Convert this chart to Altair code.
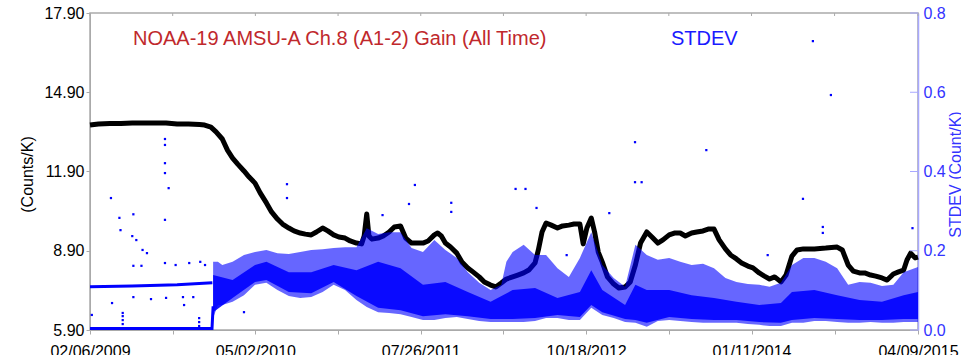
import json
import altair as alt
import pandas as pd

# ---------------- data ----------------
gain_dates = [
"2009-02-06","2009-03-01","2009-04-01","2009-05-01","2009-06-01","2009-07-01","2009-08-01","2009-09-01","2009-10-01","2009-11-01",
"2009-12-01","2009-12-15","2010-01-01","2010-01-15","2010-02-01","2010-02-15","2010-03-01","2010-03-15","2010-04-01","2010-04-15",
"2010-05-01","2010-05-15","2010-06-01","2010-06-15","2010-07-01","2010-07-15","2010-08-01","2010-08-15","2010-09-01","2010-09-15",
"2010-10-01","2010-10-15","2010-11-01","2010-11-15","2010-12-01","2010-12-15","2011-01-01","2011-01-15","2011-02-01","2011-02-15",
"2011-02-22","2011-03-01","2011-03-07","2011-03-15","2011-04-01","2011-04-15","2011-05-01","2011-05-15","2011-06-01","2011-06-15",
"2011-07-01","2011-07-15","2011-08-01","2011-08-15","2011-09-01","2011-09-10","2011-09-20","2011-10-01","2011-10-15","2011-11-01",
"2011-11-15","2011-12-01","2011-12-15","2012-01-01","2012-01-15","2012-02-01","2012-02-15","2012-03-01","2012-03-15","2012-04-01",
"2012-04-15","2012-05-01","2012-05-15","2012-06-01","2012-06-10","2012-06-20","2012-07-01","2012-07-15","2012-08-01","2012-08-15",
"2012-09-01","2012-09-15","2012-10-01","2012-10-10","2012-10-20","2012-11-01","2012-11-10","2012-11-20","2012-12-01","2012-12-15",
"2013-01-01","2013-01-15","2013-02-01","2013-02-15","2013-03-01","2013-03-15","2013-04-01","2013-04-15","2013-05-01","2013-05-15",
"2013-06-01","2013-06-15","2013-07-01","2013-07-15","2013-08-01","2013-08-15","2013-09-01","2013-09-15","2013-10-01","2013-10-15",
"2013-11-01","2013-11-15","2013-12-01","2013-12-15","2014-01-01","2014-01-15","2014-02-01","2014-02-15","2014-03-01","2014-03-15",
"2014-04-01","2014-04-15","2014-05-01","2014-05-15","2014-06-01","2014-07-01","2014-08-01","2014-09-01","2014-09-15","2014-10-01",
"2014-10-15","2014-11-01","2014-11-15","2014-12-01","2014-12-15","2015-01-01","2015-01-15","2015-02-01","2015-02-15","2015-03-01",
"2015-03-10","2015-03-20","2015-04-01","2015-04-09"]
gain_vals = [
13.66,13.70,13.72,13.72,13.74,13.74,13.74,13.74,13.70,13.70,
13.68,13.66,13.58,13.40,13.13,12.71,12.41,12.18,11.92,11.69,
11.46,11.09,10.71,10.37,10.10,9.91,9.76,9.65,9.57,9.53,
9.50,9.61,9.76,9.65,9.50,9.42,9.38,9.27,9.19,9.16,
9.46,10.29,9.46,9.34,9.38,9.46,9.61,9.80,9.84,9.38,
9.19,9.19,9.19,9.27,9.50,9.57,9.46,9.19,9.04,8.81,
8.47,8.25,8.10,7.91,7.72,7.60,7.53,7.68,7.83,7.91,
7.98,8.06,8.17,8.44,8.93,9.61,9.95,9.87,9.76,9.84,
9.87,9.91,9.91,9.16,9.76,10.14,9.61,8.85,8.47,7.91,
7.64,7.49,7.53,7.72,8.36,9.19,9.61,9.42,9.19,9.31,
9.50,9.57,9.57,9.46,9.57,9.61,9.65,9.72,9.72,9.31,
8.97,8.74,8.59,8.44,8.32,8.25,8.06,7.94,7.83,7.91,
7.72,7.98,8.70,8.93,8.97,8.97,9.00,9.04,8.93,8.36,
8.13,8.06,8.06,7.98,7.94,7.87,7.79,8.02,8.10,8.17,
8.55,8.81,8.63,8.66]

# STDEV cloud: outer envelope (sparse dots) and dense core
band_dates = [
"2010-01-07","2010-01-20","2010-02-01","2010-03-01","2010-04-01","2010-05-01","2010-06-01","2010-07-01","2010-08-01","2010-09-01",
"2010-10-01","2010-11-01","2010-12-01","2011-01-01","2011-02-01","2011-03-01","2011-04-01","2011-05-01","2011-06-01","2011-07-01",
"2011-08-01","2011-09-01","2011-10-01","2011-11-01","2011-12-01","2012-01-01","2012-02-01","2012-03-01","2012-03-15","2012-04-01",
"2012-05-01","2012-06-01","2012-07-01","2012-08-01","2012-09-01","2012-10-01","2012-11-01","2012-12-01","2013-01-01","2013-02-01",
"2013-03-01","2013-04-01","2013-05-01","2013-06-01","2013-07-01","2013-08-01","2013-09-01","2013-10-01","2013-11-01","2013-12-01",
"2014-01-01","2014-02-01","2014-03-01","2014-04-01","2014-05-01","2014-06-01","2014-07-01","2014-08-01","2014-09-01","2014-10-01",
"2014-11-01","2014-12-01","2015-01-01","2015-02-01","2015-03-01","2015-04-09"]
band_top = [
0.172,0.172,0.164,0.172,0.189,0.197,0.202,0.194,0.192,0.197,
0.202,0.204,0.207,0.209,0.209,0.257,0.242,0.247,0.247,0.207,
0.197,0.227,0.202,0.182,0.146,0.119,0.101,0.114,0.172,0.197,
0.215,0.189,0.189,0.156,0.134,0.182,0.247,0.164,0.131,0.109,
0.215,0.189,0.177,0.182,0.172,0.164,0.167,0.156,0.131,0.121,
0.116,0.114,0.109,0.119,0.164,0.182,0.182,0.172,0.156,0.114,
0.121,0.119,0.111,0.114,0.146,0.159]
band_bot = [
0.030,0.063,0.063,0.071,0.088,0.114,0.119,0.101,0.086,0.081,
0.083,0.096,0.114,0.101,0.076,0.058,0.045,0.043,0.040,0.033,
0.025,0.025,0.030,0.033,0.028,0.023,0.020,0.020,0.020,0.020,
0.020,0.023,0.030,0.030,0.025,0.025,0.056,0.038,0.030,0.020,
0.018,0.008,0.023,0.025,0.023,0.020,0.018,0.018,0.018,0.018,
0.015,0.013,0.010,0.010,0.018,0.018,0.023,0.023,0.020,0.018,
0.018,0.020,0.018,0.018,0.020,0.020]

core_dates = [
"2010-01-07","2010-03-01","2010-05-01","2010-06-01","2010-08-01","2010-10-01","2010-12-01","2011-02-01","2011-04-01","2011-06-01",
"2011-08-01","2011-10-01","2011-12-01","2012-02-01","2012-04-01","2012-06-01","2012-08-01","2012-10-01","2012-11-01","2012-12-01",
"2013-02-01","2013-03-01","2013-04-01","2013-06-01","2013-08-01","2013-10-01","2013-12-01","2014-02-01","2014-04-01","2014-05-01",
"2014-07-01","2014-09-01","2014-11-01","2015-01-01","2015-03-01","2015-04-09"]
core_top = [
0.139,0.126,0.164,0.172,0.146,0.146,0.164,0.151,0.172,0.156,
0.114,0.121,0.096,0.071,0.101,0.106,0.081,0.096,0.151,0.101,
0.063,0.114,0.101,0.101,0.088,0.081,0.071,0.063,0.068,0.096,
0.101,0.088,0.076,0.071,0.088,0.096]
core_bot = [
0.045,0.081,0.121,0.126,0.096,0.093,0.121,0.086,0.056,0.050,
0.035,0.040,0.035,0.028,0.028,0.030,0.038,0.033,0.063,0.045,
0.028,0.025,0.018,0.033,0.028,0.025,0.025,0.020,0.018,0.025,
0.030,0.028,0.025,0.025,0.028,0.028]

# two flat STDEV traces before the January 2010 switch
upper_dates = ["2009-02-06","2009-06-01","2009-10-01","2010-01-05"]
upper_vals = [0.109,0.111,0.114,0.119]
lower_dates = ["2009-02-06","2010-01-04","2010-01-07"]
lower_vals = [0.004,0.004,0.060]

# isolated STDEV points
out_dates = [
"2009-02-11","2009-04-04","2009-04-07","2009-04-27","2009-04-30","2009-06-04","2009-06-01","2009-06-12","2009-06-29","2009-07-11",
"2009-06-04","2009-06-26","2009-06-04","2009-07-22","2009-08-29","2009-08-29","2009-08-29","2009-08-29","2009-09-08","2009-08-29",
"2009-08-29","2009-09-01","2009-09-27","2009-10-17","2009-10-20","2009-11-03","2009-11-14","2009-12-03","2009-12-16","2009-05-06",
"2009-05-06","2009-05-06","2009-05-06","2009-11-30","2009-11-30","2009-11-30","2010-07-27","2010-07-27","2010-04-01","2011-07-10",
"2011-10-17","2011-06-24","2011-04-13","2011-10-17","2012-04-09","2012-05-06","2012-06-05","2012-08-26","2012-12-20","2013-02-28",
"2013-02-28","2013-03-18","2013-09-10","2014-02-24","2014-05-31","2014-06-27","2014-07-24","2014-07-24","2014-08-15","2015-03-25"]
out_vals = [
0.038,0.333,0.068,0.283,0.252,0.292,0.237,0.227,0.202,0.194,
0.162,0.162,0.083,0.078,0.482,0.467,0.421,0.396,0.358,0.278,
0.169,0.081,0.164,0.083,0.063,0.169,0.083,0.172,0.164,0.043,
0.035,0.025,0.015,0.030,0.020,0.010,0.368,0.333,0.045,0.366,
0.321,0.318,0.290,0.298,0.356,0.356,0.308,0.189,0.295,0.474,
0.373,0.373,0.454,0.189,0.331,0.729,0.260,0.245,0.593,0.257]

# axes
x_domain = ["2009-02-06", "2015-04-09"]
x_tick_dates = ["2009-02-06","2009-09-19","2010-05-02","2010-12-13","2011-07-26","2012-03-07",
                "2012-10-18","2013-05-31","2014-01-11","2014-08-25","2015-04-09"]
x_tick_labels = ["02/06/2009","05/02/2010","07/26/2011","10/18/2012","01/11/2014","04/09/2015"]
gain_ticks = [5.90, 8.90, 11.90, 14.90, 17.90]
sd_ticks = [0.0, 0.2, 0.4, 0.6, 0.8]
title_left = "NOAA-19 AMSU-A Ch.8 (A1-2) Gain (All Time)"
title_right = "STDEV"

# ---------------- chart ----------------
W, H = 828, 317
FONT = "Liberation Sans"
RED = "#c0282c"
BLUE = "#0000ff"
LBLUE = "#3333ff"
GRAY = "#aaaaaa"

def ms(d):
    return int(pd.Timestamp(d, tz="UTC").value // 10**6)

x_scale = alt.Scale(domain=[ms(d) for d in x_domain])
label_expr = ("indexof(" + json.dumps(x_tick_labels) + ", utcFormat(datum.value, '%m/%d/%Y')) >= 0 ? "
              "utcFormat(datum.value, '%m/%d/%Y') : ''")
x_axis = alt.Axis(values=[ms(d) for d in x_tick_dates], labelExpr=label_expr, title=None, grid=False,
                  labelOverlap=False, labelFlush=False, labelFont=FONT, labelFontSize=16,
                  labelColor="black", tickColor=GRAY, tickSize=4, domainColor=GRAY, labelPadding=9)

g_scale = alt.Scale(domain=[5.9, 17.9], nice=False, zero=False)
g_axis = alt.Axis(orient="left", values=gain_ticks, format=".2f", title="(Counts/K)", grid=False,
                  labelFont=FONT, labelFontSize=16, labelColor="black", labelPadding=2,
                  tickColor=GRAY, tickSize=4, domainColor=GRAY,
                  titleFont=FONT, titleFontSize=16, titleFontWeight="normal", titleColor="black",
                  titlePadding=8, titleY=161)

s_scale = alt.Scale(domain=[0, 0.8], nice=False, zero=False)
s_axis = alt.Axis(orient="right", values=sd_ticks, format=".1f", title="STDEV (Count/K)", grid=False,
                  labelFont=FONT, labelFontSize=16, labelColor=LBLUE, labelPadding=5, ticks=False,
                  domainColor="#a8a8ff", domainWidth=1.5,
                  titleFont=FONT, titleFontSize=16, titleFontWeight="normal", titleColor=LBLUE,
                  titleAngle=270, titleBaseline="top", titlePadding=2, titleY=161)

gain_df = pd.DataFrame({"date": gain_dates, "gain": gain_vals})
band_df = pd.DataFrame({"date": band_dates, "top": band_top, "bot": band_bot})
core_df = pd.DataFrame({"date": core_dates, "top": core_top, "bot": core_bot})
pre_df = pd.concat([
    pd.DataFrame({"date": upper_dates, "sd": upper_vals, "s": "upper"}),
    pd.DataFrame({"date": lower_dates, "sd": lower_vals, "s": "lower"}),
])
out_df = pd.DataFrame({"date": out_dates, "sd": out_vals})
xt_df = pd.DataFrame({"date": x_tick_dates})
st_df = pd.DataFrame({"v": sd_ticks})

X = alt.X("date:T", scale=x_scale, axis=x_axis)

gain_line = alt.Chart(gain_df).mark_line(color="black", strokeWidth=5, strokeJoin="round").encode(
    x=X, y=alt.Y("gain:Q", scale=g_scale, axis=g_axis))
top_ticks = alt.Chart(xt_df).mark_rule(color=GRAY, strokeWidth=1).encode(
    x=X, y=alt.value(0), y2=alt.value(3))
t1 = alt.Chart(pd.DataFrame({"t": [title_left]})).mark_text(
    align="left", baseline="alphabetic", font=FONT, fontSize=20, color=RED).encode(
    x=alt.value(43), y=alt.value(31.5), text="t:N")
t2 = alt.Chart(pd.DataFrame({"t": [title_right]})).mark_text(
    align="left", baseline="alphabetic", font=FONT, fontSize=20, color="#1a1aff").encode(
    x=alt.value(581), y=alt.value(31.5), text="t:N")
gain_layer = alt.layer(gain_line, top_ticks, t1, t2)

outer = alt.Chart(band_df).mark_area(color=BLUE, opacity=0.6).encode(
    x=X, y=alt.Y("top:Q", scale=s_scale, axis=s_axis), y2="bot:Q")
core = alt.Chart(core_df).mark_area(color=BLUE, opacity=0.9).encode(
    x=X, y=alt.Y("top:Q", scale=s_scale, axis=s_axis), y2="bot:Q")
pre = alt.Chart(pre_df).mark_line(color=BLUE, strokeWidth=3).encode(
    x=X, y=alt.Y("sd:Q", scale=s_scale, axis=s_axis), detail="s:N")
outs = alt.Chart(out_df).mark_square(color=BLUE, size=5, opacity=1).encode(
    x=X, y=alt.Y("sd:Q", scale=s_scale, axis=s_axis))
right_ticks = alt.Chart(st_df).mark_rule(color="#a8a8ff", strokeWidth=1).encode(
    y=alt.Y("v:Q", scale=s_scale, axis=s_axis), x=alt.value(W - 8), x2=alt.value(W))
sd_layer = alt.layer(outer, core, pre, outs, right_ticks)

chart = alt.layer(gain_layer, sd_layer).resolve_scale(y="independent").properties(
    width=W, height=H,
    autosize=alt.AutoSizeParams(type="none"),
    padding={"left": 90, "top": 13, "right": 43, "bottom": 25},
    background="white",
).configure_view(stroke=GRAY, strokeWidth=1.5)

chart.save("out.html", embed_options={"renderer": "svg", "actions": False})
